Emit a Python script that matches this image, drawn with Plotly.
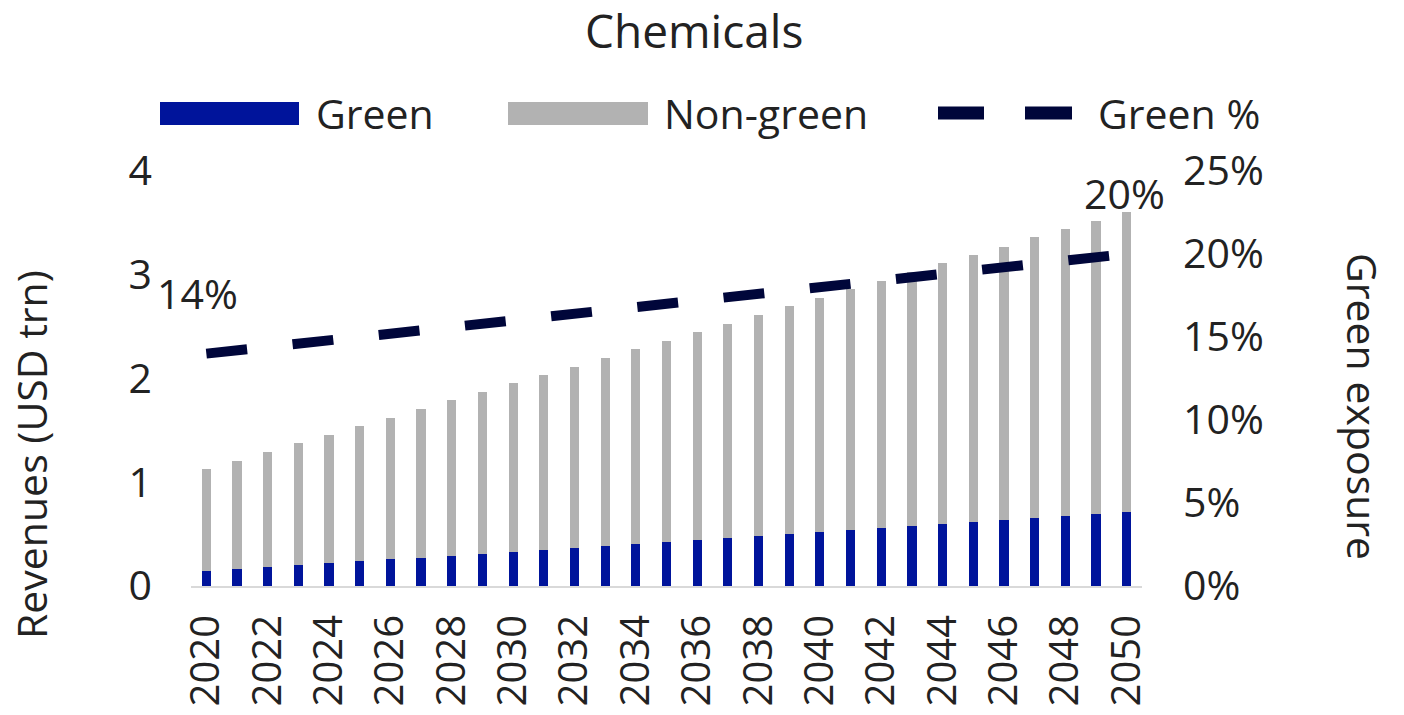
import plotly.graph_objects as go

# Revenue split (USD trn) and green share (%) by year
years = [2020, 2021, 2022, 2023, 2024, 2025, 2026, 2027, 2028, 2029, 2030,
         2031, 2032, 2033, 2034, 2035, 2036, 2037, 2038, 2039, 2040,
         2041, 2042, 2043, 2044, 2045, 2046, 2047, 2048, 2049, 2050]
green = [0.145, 0.164, 0.183, 0.202, 0.222, 0.238, 0.257, 0.270, 0.289, 0.308,
         0.328, 0.347, 0.366, 0.386, 0.405, 0.424, 0.443, 0.462, 0.482, 0.501,
         0.520, 0.540, 0.559, 0.578, 0.597, 0.617, 0.636, 0.655, 0.675, 0.694,
         0.710]
non_green = [0.980, 1.044, 1.107, 1.173, 1.233, 1.301, 1.365, 1.436, 1.501, 1.565,
             1.629, 1.690, 1.748, 1.812, 1.876, 1.937, 2.002, 2.066, 2.130, 2.195,
             2.259, 2.323, 2.384, 2.452, 2.513, 2.573, 2.634, 2.705, 2.765, 2.826,
             2.895]
green_pct = [14.0, 14.2, 14.4, 14.6, 14.8, 15.0, 15.2, 15.4, 15.6, 15.8,
             16.0, 16.2, 16.4, 16.6, 16.8, 17.0, 17.2, 17.4, 17.6, 17.8,
             18.0, 18.2, 18.4, 18.6, 18.8, 19.0, 19.2, 19.4, 19.6, 19.8,
             20.0]
tick_years = [2020, 2022, 2024, 2026, 2028, 2030, 2032, 2034, 2036, 2038,
              2040, 2042, 2044, 2046, 2048, 2050]
left_ticks = [0, 1, 2, 3, 4]
right_ticks = [0, 5, 10, 15, 20, 25]

BLUE = "#00149B"
GREY = "#B2B2B2"
NAVY = "#00063A"
TEXT = "#222222"
FONT = "Open Sans"

W, H = 1404, 715
L, R, T, B = 191, 262, 171, 129
pw, ph = W - L - R, H - T - B


def px_x(px):
    return (px - L) / pw


def px_y(py):
    return (H - B - py) / ph


fig = go.Figure()
fig.add_bar(x=years, y=green, name="Green", marker=dict(color=BLUE, line_width=0),
            width=0.3)
fig.add_bar(x=years, y=non_green, name="Non-green",
            marker=dict(color=GREY, line_width=0), width=0.3)
fig.add_scatter(x=years, y=green_pct, name="Green %", yaxis="y2", mode="lines",
                line=dict(color=NAVY, width=10, dash="41px,45.7px"))

# end-point value labels on the share line
annotations = []
for idx, xs in ((0, -9), (len(years) - 1, -2)):
    annotations.append(dict(
        x=years[idx], y=green_pct[idx], xref="x", yref="y2",
        xanchor="center", yanchor="middle",
        text=f"{green_pct[idx]:.0f}%", showarrow=False, yshift=61, xshift=xs,
        font=dict(family=FONT, size=41, color=TEXT)))

# chart heading
annotations.append(dict(x=px_x(694), y=px_y(30), xref="paper", yref="paper",
                        xanchor="center", yanchor="middle", text="Chemicals",
                        showarrow=False,
                        font=dict(family=FONT, size=46, color=TEXT)))

# axis titles
annotations.append(dict(x=px_x(31), y=px_y(455), xref="paper", yref="paper",
                        xanchor="center", yanchor="middle",
                        text="Revenues (USD trn)", textangle=-90, showarrow=False,
                        font=dict(family=FONT, size=41, color=TEXT)))
annotations.append(dict(x=px_x(1363), y=px_y(406), xref="paper", yref="paper",
                        xanchor="center", yanchor="middle",
                        text="Green exposure", textangle=90, showarrow=False,
                        font=dict(family=FONT, size=41, color=TEXT)))

# legend row
legend_y = px_y(113)
shapes = [
    dict(type="rect", xref="paper", yref="paper", x0=px_x(160), x1=px_x(299),
         y0=px_y(125), y1=px_y(102), fillcolor=BLUE, line_width=0),
    dict(type="rect", xref="paper", yref="paper", x0=px_x(508), x1=px_x(648),
         y0=px_y(125), y1=px_y(102), fillcolor=GREY, line_width=0),
    dict(type="line", xref="paper", yref="paper", x0=px_x(938), x1=px_x(984),
         y0=legend_y, y1=legend_y, line=dict(color=NAVY, width=13)),
    dict(type="line", xref="paper", yref="paper", x0=px_x(1025), x1=px_x(1072),
         y0=legend_y, y1=legend_y, line=dict(color=NAVY, width=13)),
]
for label, left in (("Green", 314), ("Non-green", 662), ("Green %", 1096)):
    annotations.append(dict(x=px_x(left), y=legend_y, xref="paper", yref="paper",
                            xanchor="left", yanchor="middle", text=label,
                            showarrow=False,
                            font=dict(family=FONT, size=41, color=TEXT)))

fig.update_layout(
    width=W, height=H,
    margin=dict(l=L, r=R, t=T, b=B, pad=0, autoexpand=False),
    barmode="stack",
    showlegend=False,
    plot_bgcolor="white", paper_bgcolor="white",
    font=dict(family=FONT, size=41, color=TEXT),
    xaxis=dict(range=[2019.5, 2050.5], tickmode="array", tickvals=tick_years,
               ticktext=[str(y) for y in tick_years], tickangle=-90,
               tickfont=dict(family=FONT, size=40, color=TEXT),
               showgrid=False, zeroline=False, showline=True,
               linecolor="#D9D9D9", linewidth=2, ticks="",
               ticklabelstandoff=11, automargin=False),
    yaxis=dict(range=[0, 4], tickmode="array", tickvals=left_ticks,
               showgrid=False, zeroline=False, showline=False, ticks="",
               ticklabelstandoff=38, automargin=False),
    yaxis2=dict(range=[0, 25], overlaying="y", side="right", tickmode="array",
                tickvals=right_ticks, ticktext=[f"{v}%" for v in right_ticks],
                showgrid=False, zeroline=False, showline=False, ticks="",
                ticklabelstandoff=40, automargin=False),
    shapes=shapes,
    annotations=annotations,
)

fig.write_html("out.html")
